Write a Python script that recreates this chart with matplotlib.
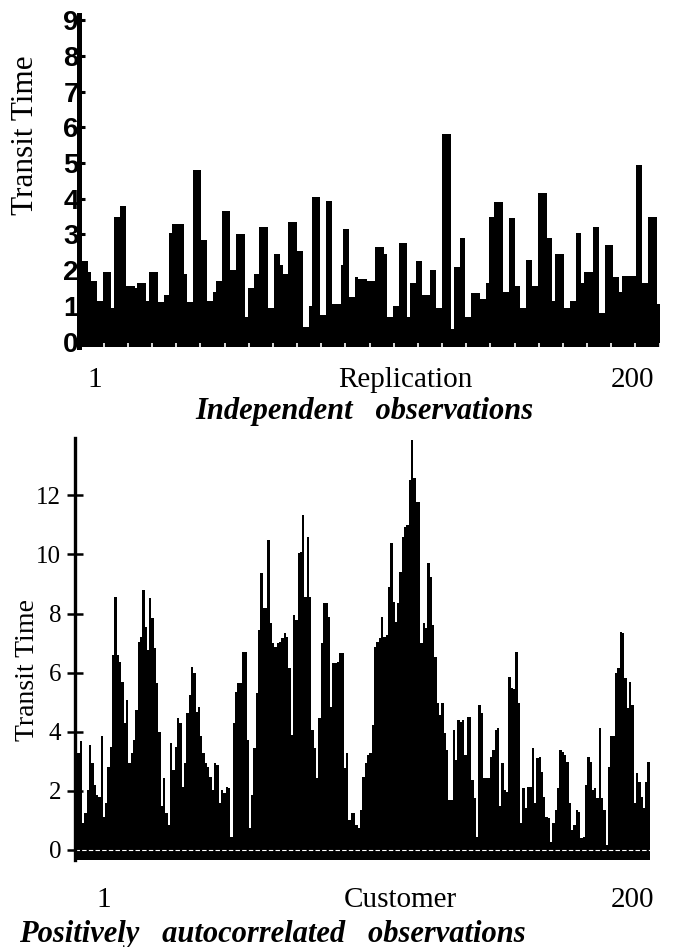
import numpy as np
import matplotlib
matplotlib.use('Agg')
import matplotlib.pyplot as plt

# --- data ---
# top panel: transit time per replication (independent observations)
indep_times = [
    2.25, 2.25, 2.25, 1.95, 1.7, 1.7, 1.15, 1.15, 1.95, 1.95,
    1.95, 0.95, 3.5, 3.5, 3.8, 3.8, 1.55, 1.55, 1.55, 1.5,
    1.65, 1.65, 1.65, 1.15, 1.95, 1.95, 1.95, 1.1, 1.1, 1.3,
    1.3, 3.05, 3.3, 3.3, 3.3, 3.3, 1.9, 1.1, 1.1, 4.8,
    4.8, 4.8, 2.85, 2.85, 1.15, 1.15, 1.4, 1.7, 1.7, 3.65,
    3.65, 3.65, 2.0, 2.0, 3.0, 3.0, 3.0, 0.7, 1.5, 1.5,
    1.9, 1.9, 3.2, 3.2, 3.2, 0.95, 0.95, 2.45, 2.45, 2.15,
    1.9, 1.9, 3.35, 3.35, 3.35, 2.55, 2.55, 0.4, 0.4, 1.0,
    4.05, 4.05, 4.05, 0.75, 0.75, 3.95, 3.95, 1.05, 1.05, 1.05,
    2.15, 3.15, 3.15, 1.25, 1.25, 1.8, 1.75, 1.75, 1.75, 1.7,
    1.7, 1.7, 2.65, 2.65, 2.65, 2.45, 0.7, 0.7, 1.0, 1.0,
    2.75, 2.75, 2.75, 0.7, 1.65, 1.65, 2.25, 2.25, 1.3, 1.3,
    1.3, 2.0, 2.0, 0.95, 0.95, 5.8, 5.8, 5.8, 0.35, 2.1,
    2.1, 2.9, 2.9, 0.7, 0.7, 1.35, 1.35, 1.35, 1.2, 1.2,
    1.65, 3.5, 3.5, 3.9, 3.9, 3.9, 1.4, 1.4, 3.45, 3.45,
    1.55, 1.55, 0.95, 0.95, 2.3, 2.3, 1.55, 1.55, 4.15, 4.15,
    4.15, 2.9, 2.9, 1.15, 2.45, 2.45, 2.45, 0.95, 0.95, 1.15,
    1.15, 3.05, 3.05, 1.65, 1.95, 1.95, 1.95, 3.2, 3.2, 0.8,
    0.8, 2.7, 2.7, 2.7, 1.8, 1.8, 1.4, 1.85, 1.85, 1.85,
    1.85, 1.85, 4.95, 4.95, 1.65, 1.65, 3.5, 3.5, 3.5, 1.05,
]

# bottom panel: transit time per customer (positively autocorrelated)
autocorr_times = [
    2.82, 3.27, 3.67, 0.90, 1.24, 2.03, 3.55, 2.93, 2.20, 1.86,
    1.80, 3.84, 1.13, 1.58, 2.82, 3.50, 6.60, 8.57, 6.60, 6.37,
    5.70, 4.29, 5.08, 2.93, 3.27, 3.72, 4.74, 7.05, 7.22, 8.80,
    7.56, 6.77, 8.52, 7.84, 6.82, 5.64, 4.00, 1.47, 2.43, 1.24,
    0.85, 3.61, 2.71, 3.50, 4.46, 4.29, 2.14, 2.93, 4.62, 5.25,
    6.20, 5.98, 4.68, 4.85, 3.84, 3.27, 2.93, 2.82,
    2.48, 2.03, 2.93, 2.88, 1.58, 2.03, 1.92, 2.12, 2.09, 0.45,
    4.29, 5.36, 5.64, 5.64, 6.71, 6.71, 3.72, 0.73, 1.86, 3.44,
    5.30, 7.44, 9.36, 8.18, 8.18, 10.49, 7.67, 6.99, 6.88, 6.99,
    7.05, 7.16, 7.33, 7.22, 6.15, 3.89, 7.95, 7.78, 10.04, 10.10,
    11.34, 8.57, 10.60, 8.57, 4.06, 3.44, 2.43, 4.46, 6.99, 8.35,
    8.35, 7.90, 4.85, 6.32, 6.32, 6.37, 6.66, 6.68, 2.76, 3.27,
    1.02, 1.24, 1.24, 0.85, 0.73, 1.35, 2.48,
    2.93, 3.21, 3.27, 4.23, 6.88, 7.05, 7.16, 7.90, 7.22, 7.28,
    8.91, 10.38, 8.40, 7.73, 8.35, 9.42, 10.60, 10.94, 11.00, 12.52,
    13.87, 12.58, 11.79, 11.79, 6.99, 7.67, 7.50, 9.70, 9.25, 7.61,
    6.54, 4.96, 4.57, 4.96, 3.95, 3.38, 1.69, 1.69, 4.06, 3.05,
    4.40, 4.34, 4.40, 3.21, 4.51, 4.51, 2.37, 1.75, 0.45, 4.91,
    4.62, 2.43, 2.43, 2.43, 3.16, 3.38, 4.06, 4.12, 1.47, 2.93,
    2.03, 1.97, 5.87, 5.47, 5.44, 6.71,
    4.96, 0.90, 2.09, 1.41, 2.14, 2.14, 3.44, 1.58, 3.10, 3.16,
    2.65, 1.80, 1.13, 1.07, 0.28, 0.90, 1.35, 2.09, 3.38, 3.33,
    3.21, 2.99, 1.58, 0.68, 0.85, 1.35, 1.30, 0.39, 0.45, 2.20,
    3.16, 2.99, 2.03, 2.09, 1.75, 4.12, 1.75, 1.35, 0.17, 2.82,
    3.84, 3.84, 5.98, 6.15, 7.39, 7.33, 5.81, 4.79, 5.70, 4.91,
    1.58, 2.59, 2.31, 1.80, 1.41, 2.31, 2.96,
]

top_yticks = list(range(0, 10))
bot_yticks = list(range(0, 13, 2))

SERIF = 'Liberation Serif'
SANS = 'Liberation Sans'
W, H = 677, 947


def px(x, y):
    # pixel position -> figure fraction
    return x / W, 1 - y / H


fig = plt.figure(figsize=(6.77, 9.47), dpi=100)

# ---------------- top panel ----------------
ax1 = fig.add_axes([0.1174, 0.6335, 0.857, 0.351])
reps = np.arange(1, len(indep_times) + 1)
base1 = -0.15
ax1.bar(reps, np.array(indep_times) - base1, bottom=base1, width=1.0,
        color='black', linewidth=0, antialiased=False)
ax1.set_xlim(0.5, len(indep_times) + 0.5)
ax1.set_ylim(base1, 9.15)
for s in ['top', 'right', 'bottom']:
    ax1.spines[s].set_visible(False)
ax1.spines['left'].set_linewidth(3.6)
ax1.set_yticks(top_yticks)
ax1.set_yticklabels([str(t) for t in top_yticks], fontfamily=SANS,
                    fontweight='bold', fontsize=20)
ax1.tick_params(axis='y', direction='in', length=4, width=2.2, pad=0.5)
# small white notches along the base
ax1.set_xticks(np.linspace(0.5, len(indep_times) + 0.5, 25))
ax1.set_xticklabels([])
ax1.tick_params(axis='x', direction='in', length=3, width=1.2, color='white')

fig.text(*px(26, 135), 'Transit Time', rotation=90, ha='center', va='center',
         fontfamily=SERIF, fontsize=22.5)
fig.text(*px(95, 380), '1', ha='center', va='center', fontfamily=SERIF, fontsize=21)
fig.text(*px(405, 380), 'Replication', ha='center', va='center', fontfamily=SERIF, fontsize=21)
fig.text(*px(632, 380), '200', ha='center', va='center', fontfamily=SERIF, fontsize=21)
fig.text(*px(364, 412), 'Independent   observations', ha='center', va='center',
         fontfamily=SERIF, fontsize=22, fontweight='bold', fontstyle='italic')

# ---------------- bottom panel ----------------
ax2 = fig.add_axes([0.1108, 0.0916, 0.849, 0.4461])
cust = np.arange(1, len(autocorr_times) + 1)
base2 = -0.35
ax2.bar(cust, np.array(autocorr_times) - base2, bottom=base2, width=1.0,
        color='black', linewidth=0, antialiased=False)
ax2.axhline(0, color='white', linewidth=0.8, linestyle=(0, (4, 2)))
ax2.set_xlim(0.5, len(autocorr_times) + 0.5)
ax2.set_ylim(base2, 13.95)
for s in ['top', 'right', 'bottom']:
    ax2.spines[s].set_visible(False)
ax2.spines['left'].set_linewidth(2.4)
ax2.set_xticks([])
ax2.set_yticks(bot_yticks)
ax2.set_yticklabels([str(t) for t in bot_yticks], fontfamily=SERIF, fontsize=18)
ax2.tick_params(axis='y', direction='inout', length=12, width=1.8, pad=4)

fig.text(*px(28, 670), 'Transit Time', rotation=90, ha='center', va='center',
         fontfamily=SERIF, fontsize=20)
fig.text(*px(104, 900), '1', ha='center', va='center', fontfamily=SERIF, fontsize=21)
fig.text(*px(400, 900), 'Customer', ha='center', va='center', fontfamily=SERIF, fontsize=21)
fig.text(*px(632, 900), '200', ha='center', va='center', fontfamily=SERIF, fontsize=21)
fig.text(*px(272, 934), 'Positively   autocorrelated   observations', ha='center',
         va='center', fontfamily=SERIF, fontsize=22, fontweight='bold',
         fontstyle='italic')

fig.savefig('out.png', dpi=100, facecolor='white')
